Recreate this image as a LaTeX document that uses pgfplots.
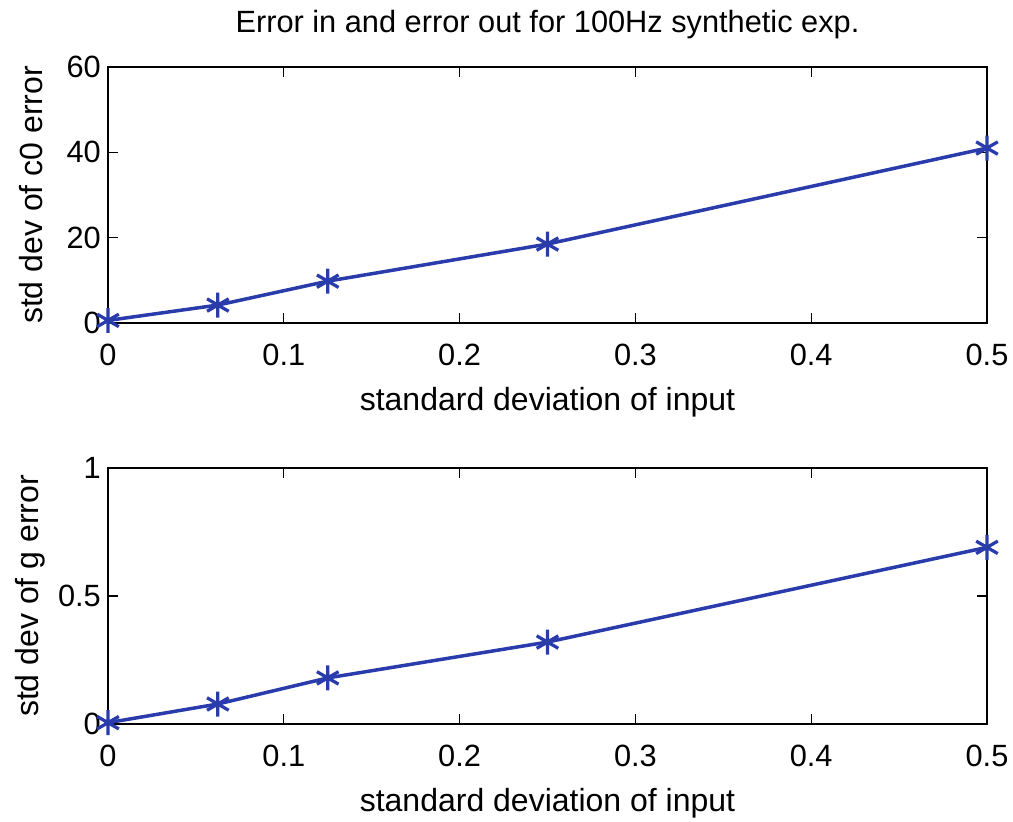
\documentclass[border=0pt]{standalone}
\usepackage{pgfplots}
\pgfplotsset{compat=1.18}
\usepackage{fontspec}
\setmainfont{Liberation Sans}
\definecolor{mblue}{RGB}{42,60,172}
\begin{document}
\fontsize{12.5}{14}\selectfont
\begin{tikzpicture}[x=1pt,y=1pt]
\path[use as bounding box] (0,0) rectangle (405.2,328.8);
\pgfplotsset{
  every axis/.style={
    width=351.6pt, height=102.4pt, scale only axis,
    xmin=0, xmax=0.5, xtick={0,0.1,...,0.5},
    tick align=inside, tick pos=both,
    major tick length=4pt,
    /pgf/number format/assume math mode=true,
    tick label style={font=\fontsize{12.3}{14}\selectfont},
    label style={font=\fontsize{12.8}{14}\selectfont},
    xticklabel style={/pgf/number format/fixed, yshift=-4pt},
    yticklabel style={xshift=1.5pt},
    xlabel={standard deviation of input},
    xlabel style={yshift=0pt},
    axis line style={black, line width=0.6pt},
    every tick/.style={black, line width=0.5pt},
    clip=false,
  }
}
\begin{axis}[at={(43.2pt,199.6pt)}, anchor=south west,
  ymin=0, ymax=60, ytick={0,20,40,60},
  ylabel={std dev of c0 error},
  ylabel style={yshift=1pt},
  title={Error in and error out for 100Hz synthetic exp.},
  title style={font=\fontsize{12.3}{14}\selectfont, yshift=1pt}]
\addplot[mblue, line width=1.4pt, mark=asterisk, mark size=5pt, mark options={line width=1.3pt}]
coordinates {(0,0.6) (0.0625,4.2) (0.125,9.8) (0.25,18.5) (0.5,41)};
\end{axis}
\begin{axis}[at={(43.2pt,39.2pt)}, anchor=south west,
  ymin=0, ymax=1, ytick={0,0.5,1},
  ylabel={std dev of g error},
  ylabel style={yshift=-3.2pt}]
\addplot[mblue, line width=1.4pt, mark=asterisk, mark size=5pt, mark options={line width=1.3pt}]
coordinates {(0,0.005) (0.0625,0.078) (0.125,0.18) (0.25,0.32) (0.5,0.69)};
\end{axis}
\end{tikzpicture}
\end{document}
